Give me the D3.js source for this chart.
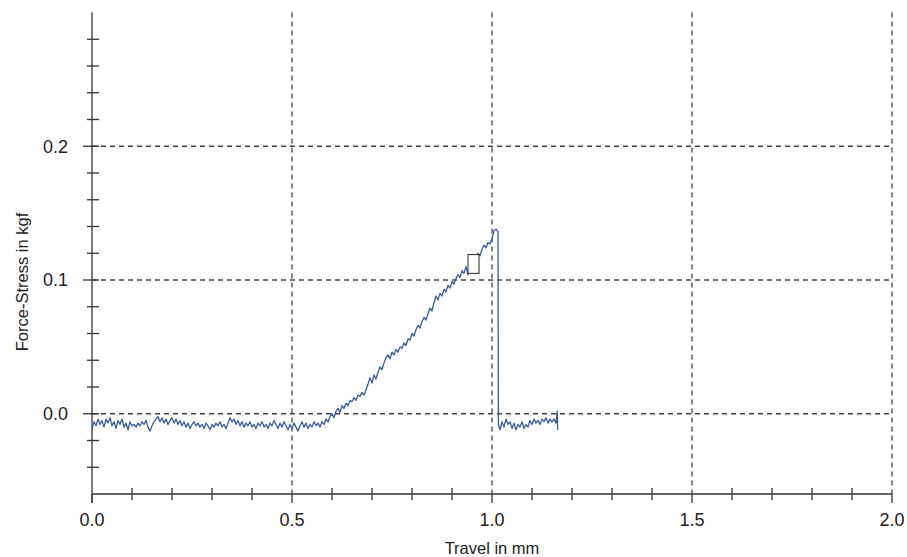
<!DOCTYPE html>
<html>
<head>
<meta charset="utf-8">
<script src="https://cdn.jsdelivr.net/npm/d3@7"></script>
<style>
  html, body { margin: 0; padding: 0; background: #ffffff; }
  svg { display: block; font-family: "Liberation Sans", Arial, sans-serif; }
</style>
</head>
<body>
<svg id="chart" width="907" height="557"></svg>
<script>
// ---- data ----
const travel = [
  0.000,0.005,0.010,0.015,0.020,0.025,0.030,0.035,0.040,0.045,
  0.050,0.055,0.060,0.065,0.070,0.075,0.080,0.085,0.090,0.095,
  0.100,0.105,0.110,0.115,0.120,0.125,0.130,0.135,0.140,0.145,
  0.150,0.155,0.160,0.165,0.170,0.175,0.180,0.185,0.190,0.195,
  0.200,0.205,0.210,0.215,0.220,0.225,0.230,0.235,0.240,0.245,
  0.250,0.255,0.260,0.265,0.270,0.275,0.280,0.285,0.290,0.295,
  0.300,0.305,0.310,0.315,0.320,0.325,0.330,0.335,0.340,0.345,
  0.350,0.355,0.360,0.365,0.370,0.375,0.380,0.385,0.390,0.395,
  0.400,0.405,0.410,0.415,0.420,0.425,0.430,0.435,0.440,0.445,
  0.450,0.455,0.460,0.465,0.470,0.475,0.480,0.485,0.490,0.495,
  0.500,0.505,0.510,0.515,0.520,0.525,0.530,0.535,0.540,0.545,
  0.550,0.555,0.560,0.565,0.570,0.575,0.580,0.585,0.590,0.595,
  0.600,0.605,0.610,0.615,0.620,0.625,0.630,0.635,0.640,0.645,
  0.650,0.655,0.660,0.665,0.670,0.675,0.680,0.685,0.690,0.695,
  0.700,0.705,0.710,0.715,0.720,0.725,0.730,0.735,0.740,0.745,
  0.750,0.755,0.760,0.765,0.770,0.775,0.780,0.785,0.790,0.795,
  0.800,0.805,0.810,0.815,0.820,0.825,0.830,0.835,0.840,0.845,
  0.850,0.855,0.860,0.865,0.870,0.875,0.880,0.885,0.890,0.895,
  0.900,0.905,0.910,0.915,0.920,0.925,0.930,0.935,0.940,0.945,
  0.950,0.955,0.960,0.965,0.970,0.975,0.980,0.985,0.990,0.995,
  1.000,1.005,1.010,1.015,1.016,1.020,1.025,1.030,1.035,1.040,
  1.045,1.050,1.055,1.060,1.065,1.070,1.075,1.080,1.085,1.090,
  1.095,1.100,1.105,1.110,1.115,1.120,1.125,1.130,1.135,1.140,
  1.145,1.150,1.155,1.160,1.163,1.164
];
const force = [
  -0.011,-0.006,-0.009,-0.004,-0.008,-0.005,-0.010,-0.004,-0.007,-0.003,
  -0.009,-0.006,-0.011,-0.005,-0.008,-0.004,-0.010,-0.007,-0.012,-0.006,
  -0.009,-0.008,-0.010,-0.007,-0.009,-0.006,-0.008,-0.005,-0.010,-0.013,
  -0.009,-0.006,-0.004,-0.002,-0.006,-0.003,-0.007,-0.004,-0.008,-0.005,
  -0.003,-0.007,-0.004,-0.008,-0.005,-0.009,-0.006,-0.010,-0.007,-0.011,
  -0.008,-0.006,-0.009,-0.007,-0.010,-0.008,-0.011,-0.007,-0.009,-0.012,
  -0.008,-0.010,-0.007,-0.009,-0.006,-0.010,-0.008,-0.011,-0.007,-0.003,
  -0.006,-0.004,-0.008,-0.005,-0.009,-0.006,-0.010,-0.007,-0.009,-0.006,
  -0.010,-0.008,-0.011,-0.007,-0.009,-0.006,-0.010,-0.008,-0.011,-0.007,
  -0.009,-0.005,-0.008,-0.011,-0.007,-0.010,-0.006,-0.009,-0.012,-0.008,
  -0.011,-0.007,-0.010,-0.013,-0.009,-0.006,-0.010,-0.007,-0.011,-0.008,
  -0.010,-0.006,-0.009,-0.007,-0.010,-0.006,-0.008,-0.004,-0.006,-0.002,
  0.000,-0.003,0.002,0.004,0.001,0.006,0.004,0.008,0.006,0.010,
  0.009,0.012,0.010,0.014,0.013,0.016,0.014,0.018,0.022,0.027,
  0.023,0.029,0.026,0.031,0.035,0.033,0.038,0.042,0.044,0.041,
  0.046,0.044,0.048,0.046,0.050,0.049,0.053,0.051,0.056,0.055,
  0.060,0.058,0.063,0.066,0.064,0.069,0.072,0.070,0.075,0.079,
  0.077,0.083,0.088,0.085,0.090,0.088,0.093,0.091,0.096,0.094,
  0.099,0.097,0.101,0.104,0.102,0.107,0.105,0.110,0.104,0.108,
  0.112,0.110,0.116,0.120,0.118,0.123,0.126,0.124,0.128,0.127,
  0.131,0.137,0.138,0.136,-0.008,-0.012,-0.006,-0.010,-0.004,-0.008,
  -0.006,-0.011,-0.007,-0.012,-0.008,-0.010,-0.006,-0.011,-0.008,-0.010,
  -0.005,-0.008,-0.004,-0.007,-0.005,-0.008,-0.004,-0.006,-0.003,-0.007,
  -0.004,-0.006,-0.004,-0.007,0.002,-0.012
];
const xTickLabels = ["0.0", "0.5", "1.0", "1.5", "2.0"];
const xMajor = [0.0, 0.5, 1.0, 1.5, 2.0];
const yTickLabels = ["0.0", "0.1", "0.2"];
const yMajor = [0.0, 0.1, 0.2];
const markerBox = [0.94, 0.9675, 0.105, 0.119]; // x0, x1, y0, y1
const xTitle = "Travel in mm";
const yTitle = "Force-Stress in kgf";

// ---- chart ----
const svg = d3.select("#chart");
const x = d3.scaleLinear().domain([0, 2.0]).range([92, 892]);
const y = d3.scaleLinear().domain([-0.06, 0.3]).range([494, 12.5]);
const axisColor = "#333";
const gridColor = "#444";

// grid lines
const grid = svg.append("g");
xMajor.filter(d => d > 0).forEach(d => {
  grid.append("line")
    .attr("x1", x(d)).attr("x2", x(d))
    .attr("y1", y(0.3)).attr("y2", y(-0.06))
    .attr("stroke", gridColor).attr("stroke-width", 1.3)
    .attr("stroke-dasharray", "5,4");
});
yMajor.forEach(d => {
  grid.append("line")
    .attr("x1", x(0)).attr("x2", x(2.0))
    .attr("y1", y(d)).attr("y2", y(d))
    .attr("stroke", gridColor).attr("stroke-width", 1.3)
    .attr("stroke-dasharray", "5,4");
});

// y axis
svg.append("line")
  .attr("x1", x(0)).attr("x2", x(0))
  .attr("y1", y(0.3)).attr("y2", y(-0.06) + 9)
  .attr("stroke", axisColor).attr("stroke-width", 1.3);
const yMinor = d3.range(-2, 15).map(i => i * 0.02);
yMinor.forEach(d => {
  const isMajor = yMajor.some(m => Math.abs(m - d) < 1e-9);
  svg.append("line")
    .attr("x1", x(0) - (isMajor ? 9 : 5)).attr("x2", x(0) + 7)
    .attr("y1", y(d)).attr("y2", y(d))
    .attr("stroke", axisColor).attr("stroke-width", 1.3);
});
yMajor.forEach((d, i) => {
  svg.append("text")
    .attr("x", 68).attr("y", y(d))
    .attr("dy", "0.35em")
    .attr("text-anchor", "end")
    .attr("font-size", 18).attr("fill", "#222")
    .text(yTickLabels[i]);
});

// x axis
svg.append("line")
  .attr("x1", x(0)).attr("x2", x(2.0))
  .attr("y1", y(-0.06)).attr("y2", y(-0.06))
  .attr("stroke", axisColor).attr("stroke-width", 1.3);
const xMinor = d3.range(0, 21).map(i => i * 0.1);
xMinor.forEach(d => {
  const isMajor = xMajor.some(m => Math.abs(m - d) < 1e-9);
  svg.append("line")
    .attr("x1", x(d)).attr("x2", x(d))
    .attr("y1", y(-0.06) - (isMajor ? 0 : 6)).attr("y2", y(-0.06) + (isMajor ? 9 : 6))
    .attr("stroke", axisColor).attr("stroke-width", 1.3);
});
xMajor.forEach((d, i) => {
  svg.append("text")
    .attr("x", x(d)).attr("y", 520)
    .attr("dy", "0.35em")
    .attr("text-anchor", "middle")
    .attr("font-size", 18).attr("fill", "#222")
    .text(xTickLabels[i]);
});

// titles
svg.append("text")
  .attr("x", (x(0) + x(2.0)) / 2).attr("y", 548)
  .attr("dy", "0.35em")
  .attr("text-anchor", "middle")
  .attr("font-size", 16.5).attr("fill", "#222")
  .text(xTitle);
svg.append("text")
  .attr("transform", "translate(22,282) rotate(-90)")
  .attr("dy", "0.35em")
  .attr("text-anchor", "middle")
  .attr("font-size", 16.5).attr("fill", "#222")
  .text(yTitle);

// data line
const pts = travel.map((t, i) => [t, force[i]]);
const line = d3.line().x(d => x(d[0])).y(d => y(d[1]));
svg.append("path")
  .datum(pts)
  .attr("d", line)
  .attr("fill", "none")
  .attr("stroke", "#3a5b9a")
  .attr("stroke-width", 1.3)
  .attr("stroke-linejoin", "round");

// marker box
svg.append("rect")
  .attr("x", x(markerBox[0]))
  .attr("y", y(markerBox[3]))
  .attr("width", x(markerBox[1]) - x(markerBox[0]))
  .attr("height", y(markerBox[2]) - y(markerBox[3]))
  .attr("fill", "#fff")
  .attr("stroke", "#222")
  .attr("stroke-width", 1);
</script>
</body>
</html>
